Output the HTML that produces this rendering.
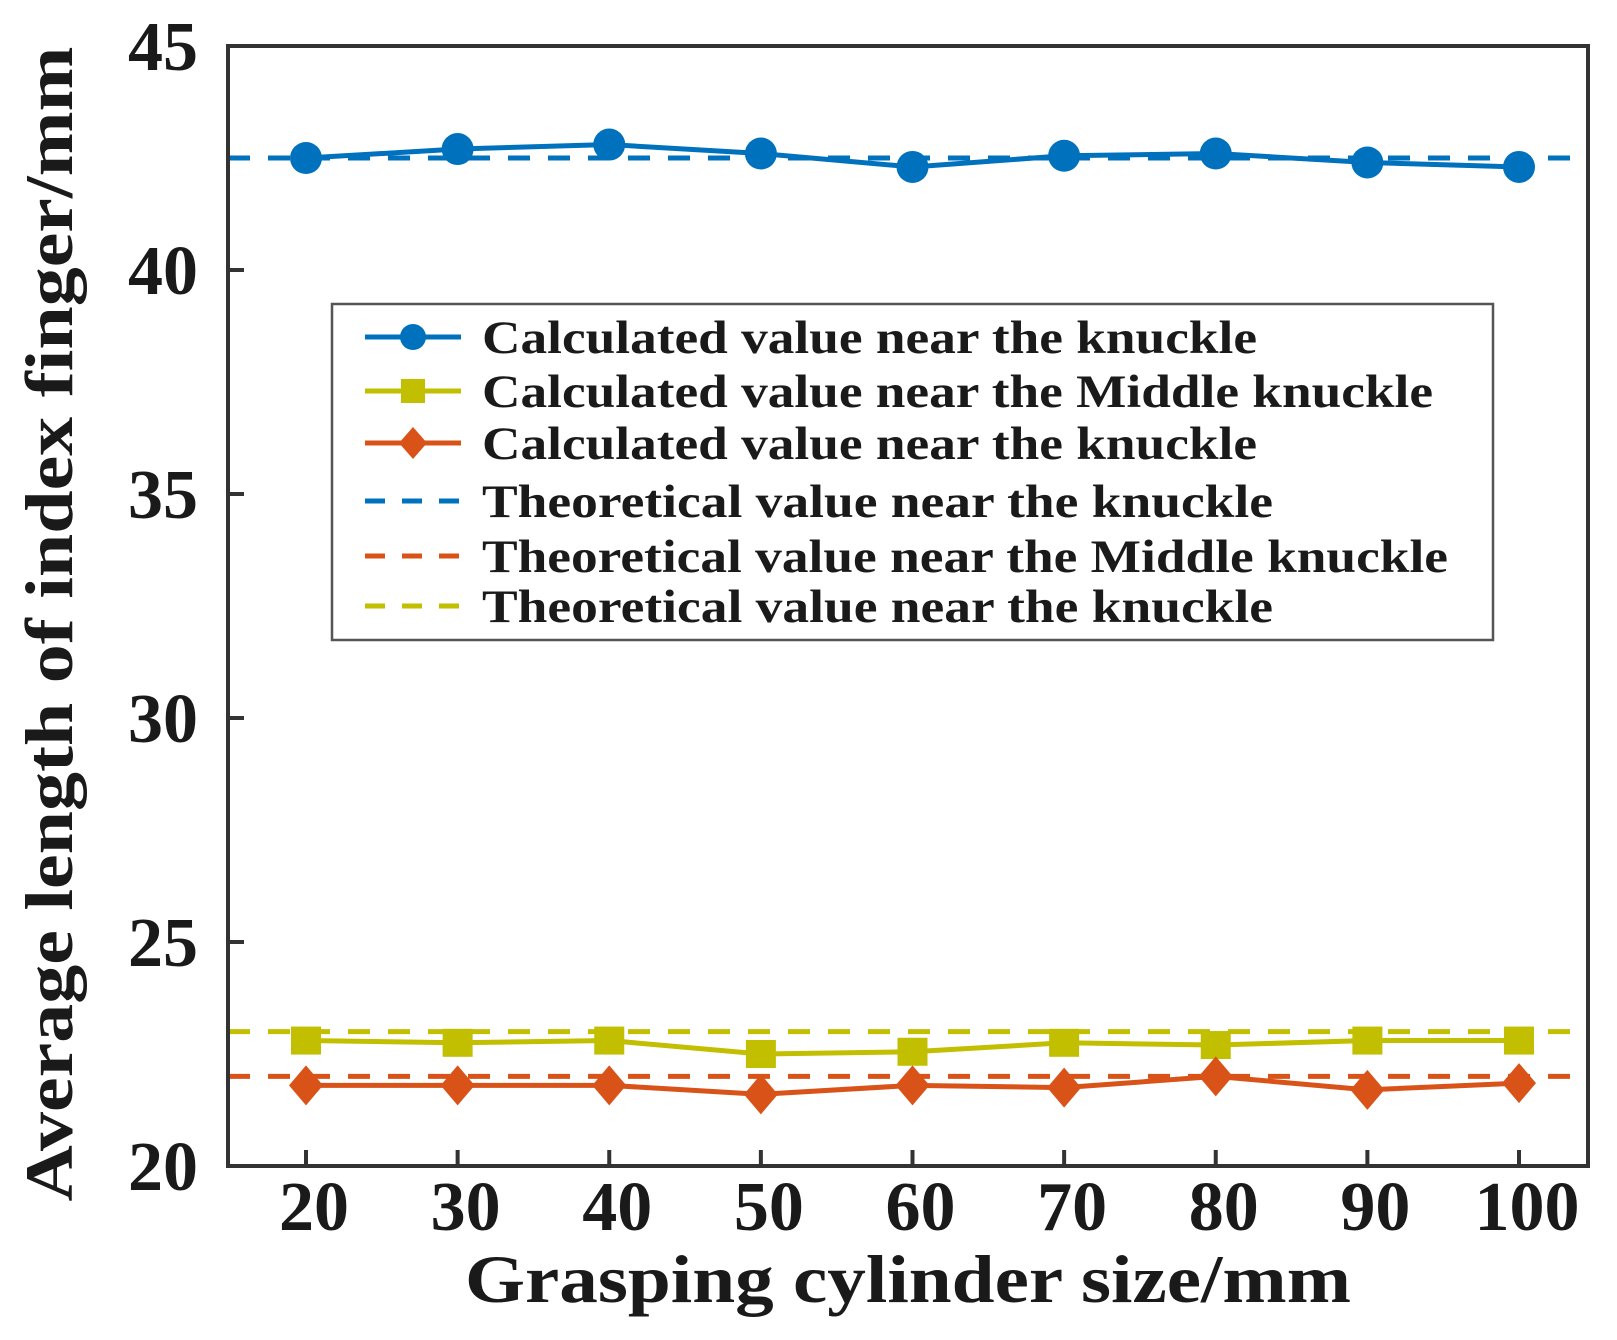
<!DOCTYPE html>
<html><head><meta charset="utf-8"><style>
html,body{margin:0;padding:0;background:#fff;}
svg text{font-family:"Liberation Serif",serif;font-weight:bold;fill:#1a1a1a;}
</style></head><body>
<svg id="chart" width="1617" height="1335" xmlns="http://www.w3.org/2000/svg">
<g id="plot"></g>
</svg>
<script>
const categories=[20,30,40,50,60,70,80,90,100];
const blueValues=[42.5,42.7,42.8,42.6,42.3,42.55,42.6,42.4,42.3];
const yellowValues=[22.8,22.75,22.8,22.5,22.55,22.75,22.7,22.8,22.8];
const orangeValues=[21.8,21.8,21.8,21.6,21.8,21.75,22.0,21.7,21.85];
const theoBlue=42.5, theoYellow=23, theoOrange=22;
const yTicks=[20,25,30,35,40,45];
const legendLabels=["Calculated value near the knuckle","Calculated value near the Middle knuckle","Calculated value near the knuckle","Theoretical value near the knuckle","Theoretical value near the Middle knuckle","Theoretical value near the knuckle"];

const NS="http://www.w3.org/2000/svg";
const L=228,R=1588,T=46,B=1166;
const xs=v=>306+(v-20)*(1519-306)/80;
const ys=v=>B-(v-20)*(B-T)/25;
const svg=document.getElementById('chart');
function mk(tag,a,parent){const e=document.createElementNS(NS,tag);for(const k in a)e.setAttribute(k,a[k]);(parent||svg).appendChild(e);return e;}
const BLUE="#0072bd",YEL="#c2bf00",ORA="#d95319";

[[theoBlue,BLUE,'theoretical-blue-line'],[theoYellow,YEL,'theoretical-yellow-line'],[theoOrange,ORA,'theoretical-orange-line']].forEach(([v,c,n])=>{
 const e=mk('line',{x1:L,x2:R,y1:ys(v),y2:ys(v),stroke:c,'stroke-width':5,'stroke-dasharray':'22,18'});
 
 
});
function series(vals,c,shape,name){
 const p=mk('polyline',{points:vals.map((v,i)=>xs(categories[i])+','+ys(v)).join(' '),fill:'none',stroke:c,'stroke-width':5});
 
 
 vals.forEach((v,i)=>{
  const x=xs(categories[i]),y=ys(v);let m;
  if(shape==='circle')m=mk('circle',{cx:x,cy:y,r:16,fill:c});
  else if(shape==='square')m=mk('rect',{x:x-15,y:y-14,width:30,height:28,fill:c});
  else m=mk('polygon',{points:`${x},${y-20} ${x+17},${y} ${x},${y+20} ${x-17},${y}`,fill:c});
  
  
 });
}
series(blueValues,BLUE,'circle','calculated-blue');
series(yellowValues,YEL,'square','calculated-yellow');
series(orangeValues,ORA,'diamond','calculated-orange');

const box=mk('rect',{x:L,y:T,width:R-L,height:B-T,fill:'none',stroke:'#333','stroke-width':4});


yTicks.forEach(v=>{
 mk('line',{x1:L,x2:L+16,y1:ys(v),y2:ys(v),stroke:'#333','stroke-width':4});
 const t=mk('text',{x:198,y:ys(v)+24,'text-anchor':'end','font-size':70});t.textContent=v;
 
 
});
categories.forEach(v=>{
 mk('line',{x1:xs(v),x2:xs(v),y1:B,y2:B-16,stroke:'#333','stroke-width':4});
 const t=mk('text',{x:xs(v)+8,y:1230,'text-anchor':'middle','font-size':70});t.textContent=v;
 
 
});
const xt=mk('text',{x:908,y:1302,'text-anchor':'middle','font-size':68,textLength:886,lengthAdjust:'spacingAndGlyphs'});xt.textContent='Grasping cylinder size/mm';


const yt=mk('text',{x:0,y:0,'text-anchor':'middle','font-size':68,textLength:1155,lengthAdjust:'spacingAndGlyphs',transform:'translate(72,624) rotate(-90)'});yt.textContent='Average length of index finger/mm';



const lg=mk('g',{});


mk('rect',{x:332,y:304,width:1161,height:336,fill:'#fff',stroke:'#555','stroke-width':2.5},lg);
const rowY=[337,391,443,501,556,606];
const rowW=[775,951,775,791,966,791];
const lc=[BLUE,YEL,ORA,BLUE,ORA,YEL];
rowY.forEach((y,i)=>{
 const g=mk('g',{},lg);
 
 
 if(i<3){
  mk('line',{x1:365,x2:461,y1:y,y2:y,stroke:lc[i],'stroke-width':5},g);
  const x=413;
  if(i===0)mk('circle',{cx:x,cy:y,r:13,fill:lc[i]},g);
  else if(i===1)mk('rect',{x:x-12,y:y-12,width:24,height:24,fill:lc[i]},g);
  else mk('polygon',{points:`${x},${y-16} ${x+14},${y} ${x},${y+16} ${x-14},${y}`,fill:lc[i]},g);
 } else {
  mk('line',{x1:365,x2:461,y1:y,y2:y,stroke:lc[i],'stroke-width':5,'stroke-dasharray':'20,17'},g);
 }
 const t=mk('text',{x:482,y:y+16,'font-size':47,textLength:rowW[i],lengthAdjust:'spacingAndGlyphs'},g);t.textContent=legendLabels[i];
});
</script>
</body></html>
